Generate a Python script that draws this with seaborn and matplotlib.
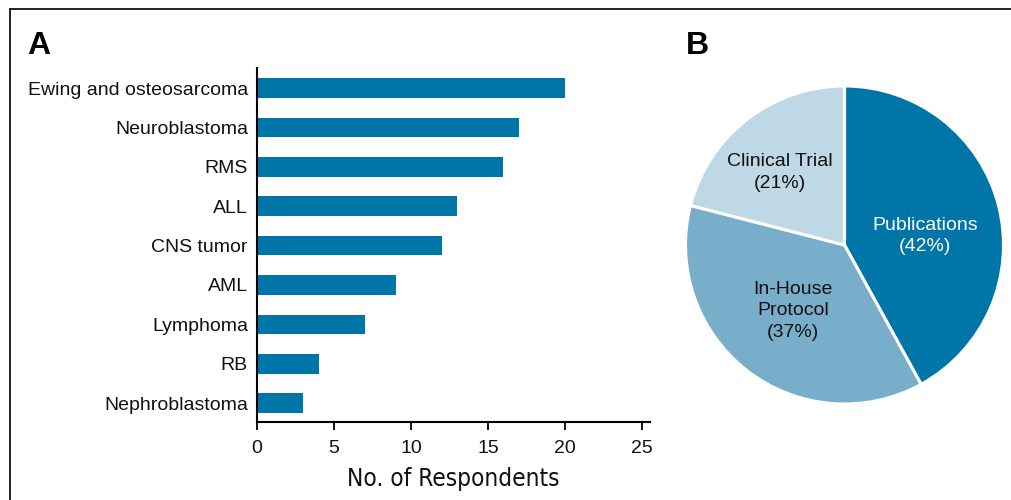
import matplotlib
matplotlib.use("Agg")
import matplotlib.pyplot as plt
import seaborn as sns
import pandas as pd
from matplotlib.lines import Line2D

# Dados - painel A
doencas = ["Ewing and osteosarcoma", "Neuroblastoma", "RMS", "ALL", "CNS tumor",
           "AML", "Lymphoma", "RB", "Nephroblastoma"]
respondentes = [20, 17, 16, 13, 12, 9, 7, 4, 3]
x_ticks = [0, 5, 10, 15, 20, 25]

# Dados - painel B
fontes = ["Publications", "In-House\nProtocol", "Clinical Trial"]
percentuais = [42, 37, 21]

cor_barra = "#0076A8"
cores_pie = ["#0076A8", "#79AECB", "#BED8E5"]

sns.set_theme(style="white")
plt.rcParams["font.family"] = ["Liberation Sans", "DejaVu Sans"]
plt.rcParams["text.color"] = "#111111"

df = pd.DataFrame({"doenca": doencas, "n": respondentes})

fig = plt.figure(figsize=(10.12, 5.0), dpi=100)

# moldura (topo e esquerda)
fig.add_artist(Line2D([10 / 1012, 1.0], [1 - 9 / 500, 1 - 9 / 500], color="black", lw=1.2))
fig.add_artist(Line2D([10 / 1012, 10 / 1012], [0, 1 - 9 / 500], color="black", lw=1.2))

# Painel A
ax1 = fig.add_axes([257 / 1012, 78 / 500, 392.7 / 1012, 354 / 500])
sns.barplot(data=df, x="n", y="doenca", color=cor_barra, width=0.5, saturation=1,
            ax=ax1, edgecolor="none")
ax1.set_xlim(0, 25.5)
ax1.set_ylim(8.48, -0.51)
ax1.set_xticks(x_ticks)
ax1.set_xlabel("No. of Respondents", family="DejaVu Sans", fontstretch="condensed",
               fontsize=17.5, labelpad=7, color="#111111")
ax1.set_ylabel("")
sns.despine(ax=ax1)
for s in ["left", "bottom"]:
    ax1.spines[s].set_color("black")
    ax1.spines[s].set_linewidth(1.5)
ax1.tick_params(axis="x", length=6, width=1.3, color="black", direction="out",
                labelsize=14, pad=7, bottom=True)
ax1.tick_params(axis="y", length=0, labelsize=14, pad=6.5)
for t in ax1.get_yticklabels() + ax1.get_xticklabels():
    t.set_color("#111111")
fig.text(27 / 1012, 1 - 54 / 500, "A", fontsize=23, fontweight="bold", va="baseline",
         color="black")

# Painel B
ax2 = fig.add_axes([685.5 / 1012, 96 / 500, 318 / 1012, 318 / 500])
wedges, textos = ax2.pie(percentuais, colors=cores_pie, startangle=90, counterclock=False,
                         labels=[f"{f}\n({p}%)" for f, p in zip(fontes, percentuais)],
                         labeldistance=0.55,
                         wedgeprops=dict(edgecolor="white", linewidth=2.2),
                         textprops=dict(fontsize=14, ha="center", va="center"))
ax2.set_xlim(-1.0, 1.0)
ax2.set_ylim(-1.0, 1.0)
ax2.set_aspect("equal")
# ajuste fino da posição dos rótulos
pos_rotulos = [(0.506, 0.057), (-0.324, -0.415), (-0.406, 0.456)]
cor_rotulos = ["white", "#111111", "#111111"]
for t, p, c in zip(textos, pos_rotulos, cor_rotulos):
    t.set_position(p)
    t.set_ha("center")
    t.set_va("center")
    t.set_color(c)
    t.set_linespacing(1.35)
fig.text(686 / 1012, 1 - 54 / 500, "B", fontsize=23, fontweight="bold", va="baseline",
         color="black")

fig.savefig("out.png", dpi=100)
